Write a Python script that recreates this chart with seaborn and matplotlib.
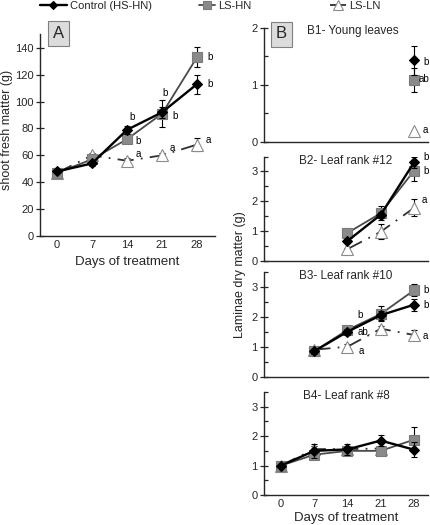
import matplotlib
matplotlib.use("Agg")
import matplotlib.pyplot as plt
from matplotlib.lines import Line2D
from matplotlib.ticker import MultipleLocator
import numpy as np
import pandas as pd
import seaborn as sns

days = [0, 7, 14, 21, 28]
series = ["Control (HS-HN)", "LS-HN", "LS-LN"]
nan = np.nan

# Panel A: shoot fresh matter (g)
a_vals = {
    "Control (HS-HN)": [48, 54, 79, 92, 113],
    "LS-HN": [47, 57, 72, 91, 133],
    "LS-LN": [47, 60, 56, 60, 68],
}
a_err = {
    "Control (HS-HN)": [1, 2, 3, 4, 7],
    "LS-HN": [1, 2, 3, 10, 7.5],
    "LS-LN": [1, 2, 2, 2, 5],
}

# Panel B: laminae dry matter (g)
b1_vals = {
    "Control (HS-HN)": [nan, nan, nan, nan, 1.43],
    "LS-HN": [nan, nan, nan, nan, 1.08],
    "LS-LN": [nan, nan, nan, nan, 0.18],
}
b1_err = {
    "Control (HS-HN)": [0, 0, 0, 0, 0.26],
    "LS-HN": [0, 0, 0, 0, 0.21],
    "LS-LN": [0, 0, 0, 0, 0],
}
b2_vals = {
    "Control (HS-HN)": [nan, nan, 0.67, 1.55, 3.3],
    "LS-HN": [nan, nan, 0.94, 1.6, 3.02],
    "LS-LN": [nan, nan, 0.4, 0.98, 1.78],
}
b2_err = {
    "Control (HS-HN)": [0, 0, 0.08, 0.1, 0.17],
    "LS-HN": [0, 0, 0.1, 0.24, 0.33],
    "LS-LN": [0, 0, 0.05, 0.25, 0.28],
}
b3_vals = {
    "Control (HS-HN)": [nan, 0.85, 1.5, 2.05, 2.4],
    "LS-HN": [nan, 0.85, 1.56, 2.09, 2.88],
    "LS-LN": [nan, 0.9, 1.0, 1.6, 1.39],
}
b3_err = {
    "Control (HS-HN)": [0, 0.08, 0.1, 0.15, 0.2],
    "LS-HN": [0, 0.1, 0.12, 0.25, 0.2],
    "LS-LN": [0, 0.05, 0.08, 0.1, 0.15],
}
b4_vals = {
    "Control (HS-HN)": [1.0, 1.5, 1.55, 1.85, 1.54],
    "LS-HN": [1.0, 1.37, 1.5, 1.5, 1.88],
    "LS-LN": [1.0, 1.56, 1.56, 1.58, nan],
}
b4_err = {
    "Control (HS-HN)": [0.05, 0.25, 0.2, 0.2, 0.25],
    "LS-HN": [0.05, 0.1, 0.1, 0.1, 0.42],
    "LS-LN": [0.05, 0.1, 0.1, 0.1, 0],
}

# significance letters: (series, day, letter, dx px, dy px up)
a_letters = [
    ("Control (HS-HN)", 14, "b", 2, 13),
    ("LS-HN", 14, "b", 8, -2),
    ("Control (HS-HN)", 21, "b", 0, 19),
    ("LS-HN", 21, "b", 10, -2),
    ("LS-HN", 28, "b", 10, 0),
    ("Control (HS-HN)", 28, "b", 10, 0),
    ("LS-LN", 14, "a", 9, 7),
    ("LS-LN", 21, "a", 8, 7),
    ("LS-LN", 28, "a", 9, 5),
]
b1_letters = [
    ("Control (HS-HN)", 28, "b", 9, -2),
    ("LS-HN", 28, "ab", 5, 1),
    ("LS-LN", 28, "a", 9, 1),
]
b2_letters = [
    ("Control (HS-HN)", 28, "b", 9, 5),
    ("LS-HN", 28, "b", 9, 0),
    ("LS-LN", 28, "a", 8, 8),
]
b3_letters = [
    ("LS-HN", 14, "b", 10, 15),
    ("Control (HS-HN)", 14, "ab.", 10, 0),
    ("LS-LN", 14, "a", 11, -4),
    ("LS-HN", 28, "b", 9, 0),
    ("Control (HS-HN)", 28, "b", 9, 0),
    ("LS-LN", 28, "a", 9, -1),
]

styles = {
    "Control (HS-HN)": dict(color="black", lw=1.7, ls="-", marker="D", ms=5.5,
                            mfc="black", mec="black", zorder=4),
    "LS-HN": dict(color="#4a4a4a", lw=1.3, ls="-", marker="s", ms=7.5,
                  mfc="#8a8a8a", mec="#7a7a7a", zorder=3),
    "LS-LN": dict(color="#303030", lw=1.3, ls=(0, (9, 4, 1, 4)), marker="^", ms=8.5,
                  mfc="white", mec="#8a8a8a", zorder=2),
}

W, H = 431, 525
fig = plt.figure(figsize=(W / 100, H / 100), dpi=100)
sns.set_style("ticks")
plt.rcParams["font.family"] = ["Liberation Sans", "DejaVu Sans"]


def px_axes(left, top, right, bottom):
    return fig.add_axes([left / W, 1 - bottom / H, (right - left) / W, (bottom - top) / H])


def draw_panel(ax, vals, errs, letters):
    for name in series:
        df = pd.DataFrame({"day": days, "value": vals[name], "err": errs[name]}).dropna()
        st = styles[name]
        ax.errorbar(df["day"], df["value"], yerr=df["err"], fmt="none", ecolor="black",
                    elinewidth=0.8, capsize=2, capthick=0.8, zorder=st["zorder"] - 0.5)
        sns.lineplot(data=df, x="day", y="value", ax=ax, errorbar=None, color=st["color"],
                     linewidth=st["lw"], linestyle=st["ls"], marker=st["marker"],
                     markersize=st["ms"], markerfacecolor=st["mfc"],
                     markeredgecolor=st["mec"], markeredgewidth=0.8, zorder=st["zorder"])
    for name, day, letter, dx, dy in letters:
        y = vals[name][days.index(day)]
        ax.annotate(letter, (day, y), xytext=(dx * 0.72, dy * 0.72), textcoords="offset points",
                    ha="left", va="center", fontsize=7, color="black")
    for side in ["top", "right"]:
        ax.spines[side].set_visible(False)
    ax.spines["left"].set_linewidth(1.0)
    ax.spines["bottom"].set_linewidth(1.0)
    ax.tick_params(axis="x", length=0, labelsize=8, pad=3)
    ax.tick_params(axis="y", which="major", direction="inout", length=6, width=0.9,
                   labelsize=8, pad=1.5)
    ax.tick_params(axis="y", which="minor", direction="in", length=3, width=0.9)
    ax.set_xlabel("")
    ax.set_ylabel("")
    ax.set_xticks(days)


def boxed_letter(x, y, letter):
    fig.text(x / W, 1 - y / H, letter, ha="center", va="center", fontsize=12,
             bbox=dict(boxstyle="square,pad=0.3", fc="#dcdcdc", ec="#808080", lw=0.8))


# Panel A
ax_a = px_axes(40, 34.4, 215, 236)
draw_panel(ax_a, a_vals, a_err, a_letters)
ax_a.set_xlim(-3.4, 31.6)
ax_a.set_ylim(0, 150)
ax_a.set_yticks(range(0, 141, 20))
ax_a.set_xlabel("Days of treatment", fontsize=9.5, labelpad=4)
fig.text(7 / W, 1 - 130 / H, "shoot fresh matter (g)", rotation=90, ha="center", va="center",
         fontsize=9)
boxed_letter(58.5, 33.5, "A")

# Panel B
panels = [
    ((264, 28, 428, 141.7), b1_vals, b1_err, b1_letters, 2, "B1- Young leaves"),
    ((264, 156.5, 428, 261), b2_vals, b2_err, b2_letters, 3.5, "B2- Leaf rank #12"),
    ((264, 271.7, 428, 376.7), b3_vals, b3_err, b3_letters, 3.5, "B3- Leaf rank #10"),
    ((264, 392, 428, 495), b4_vals, b4_err, [], 3.5, "B4- Leaf rank #8"),
]
b_axes = []
for box, vals, errs, letters, ymax, title in panels:
    ax = px_axes(*box)
    draw_panel(ax, vals, errs, letters)
    ax.set_xlim(-3.58, 30.95)
    ax.set_ylim(0, ymax)
    ax.set_yticks(range(0, int(ymax) + 1))
    ax.yaxis.set_minor_locator(MultipleLocator(0.5))
    b_axes.append(ax)
    if title.startswith("B1"):
        ax.text(0.26, 0.97, title, transform=ax.transAxes, ha="left", va="center", fontsize=8.5)
    else:
        ax.text(0.5, 0.96, title, transform=ax.transAxes, ha="center", va="center", fontsize=8.5)

for ax in b_axes[:-1]:
    ax.set_xticklabels([])
b_axes[-1].set_xlabel("Days of treatment", fontsize=9.5, labelpad=2)
boxed_letter(281.5, 34, "B")
fig.text(240 / W, 1 - 275 / H, "Laminae dry matter (g)", rotation=90, ha="center", va="center",
         fontsize=9)

# Legend row along the top
legend_spots = [40, 199, 330]
hlens = [2.4, 1.45, 1.45]
for name, x, hl in zip(series, legend_spots, hlens):
    st = styles[name]
    handle = Line2D([], [], color=st["color"], lw=st["lw"], ls=st["ls"], marker=st["marker"],
                    ms=st["ms"] * 0.8, mfc=st["mfc"], mec=st["mec"], mew=0.8)
    fig.legend(handles=[handle], labels=[name], loc="center left",
               bbox_to_anchor=(x / W, 1 - 6 / H), frameon=False, fontsize=8,
               handlelength=hl, handletextpad=0.3, borderpad=0, borderaxespad=0)

fig.savefig("out.png", dpi=100)
